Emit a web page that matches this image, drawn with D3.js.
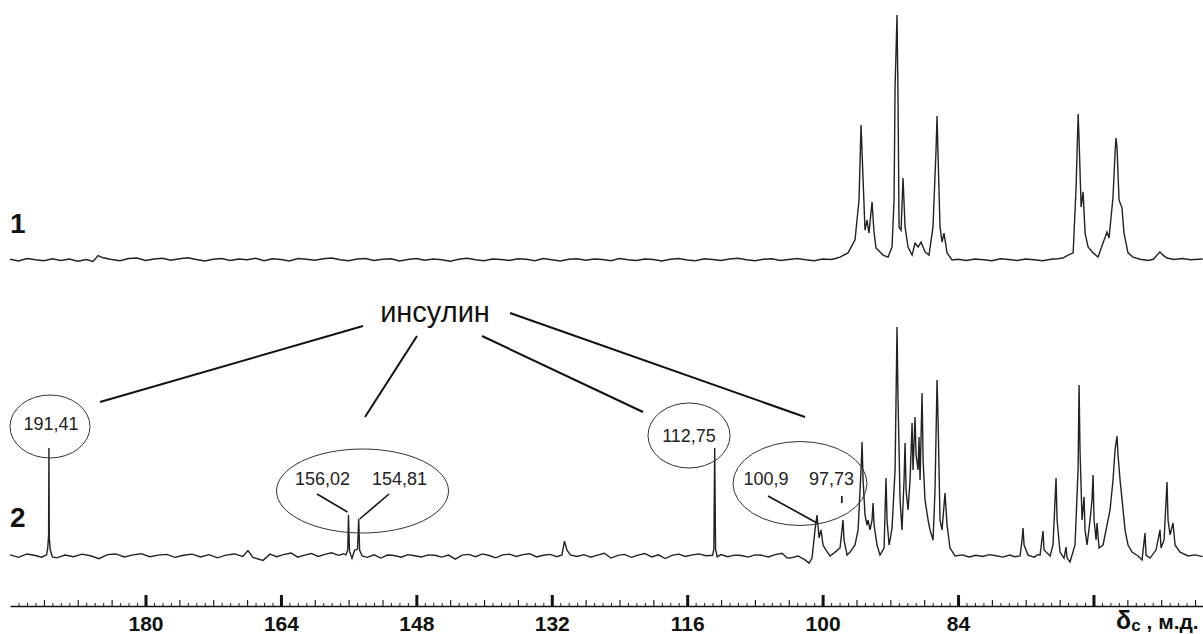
<!DOCTYPE html>
<html>
<head>
<meta charset="utf-8">
<script src="https://cdn.jsdelivr.net/npm/d3@7"></script>
<style>
  body { margin: 0; background: #fff; }
  svg { display: block; font-family: "Liberation Sans", Arial, sans-serif; }
</style>
</head>
<body>
<svg id="chart" width="1203" height="634"></svg>
<script>
// 13C spectra, [ppm, intensity in % of the tallest line]
const spectrum1 = [
  [196,0.3],[195,-0.4],[194,0.6],[193,0.1],[192,-0.3],[191,0.5],[190,-0.2],[189,0.4],[188,-0.5],[187,0.2],[186.2,-0.6],[185.6,1.8],[185,0.9],[184,0.2],[183,-0.3],[182,0.6],[181,0.8],[180,-0.2],[179,0.4],[178,0.7],[177,-0.1],[176,0.5],[175,0.9],[174,0.2],[173,-0.4],[172,0.3],[171,0.6],[170,-0.2],[169,0.4],[168,0.1],[167,0.7],[166,-0.3],[165,0.5],[164,0.2],[163,-0.4],[162,0.6],[161,0.3],[160,-0.1],[159,0.5],[158,0.8],[157,0.1],[156,-0.3],[155,0.4],[154,0.6],[153,-0.2],[152,0.3],[151,0.5],[150,-0.4],[149,0.2],[148,0.6],[147,-0.1],[146,0.4],[145,0.1],[144,-0.5],[143,0.3],[142,0.7],[141,0.1],[140,-0.3],[139,0.4],[138,0.2],[137,-0.2],[136,0.5],[135,0.3],[134,-0.3],[133,0.6],[132,0.1],[131,-0.4],[130,0.3],[129,0.5],[128,-0.1],[127,0.4],[126,0.2],[125,-0.3],[124,0.6],[123,0.1],[122,-0.2],[121,0.4],[120,0.2],[119,-0.4],[118,0.3],[117,0.6],[116,0],[115,-0.3],[114,0.5],[113,0.2],[112,-0.2],[111,0.4],[110,0.7],[109,0.1],[108,-0.3],[107,0.3],[106,0.5],[105,-0.2],[104,0.2],[103,0.6],[102,0.1],[101,-0.3],[100,0.4],[99,0.2],[98.5,0.6],
  [97.95,1.2],[97.0,2.9],[96.17,8.2],[95.7,24.5],[95.46,55.1],[95.22,32.7],[94.99,12.2],[94.75,16.3],[94.52,11.0],[94.16,23.7],[93.93,11.4],[93.69,4.9],[92.86,2.0],[92.27,1.2],[91.8,5.3],[91.56,24.5],[91.44,70.6],[91.21,100],[91.09,65.3],[90.97,13.5],[90.73,12.2],[90.5,33.5],[90.26,13.5],[89.91,5.3],[89.43,2.0],[89.08,6.9],[88.72,5.3],[88.37,7.3],[87.9,3.3],[87.43,2.0],[86.96,13.5],[86.6,44.9],[86.48,58.8],[86.37,43.7],[86.13,13.5],[85.89,7.3],[85.66,11.0],[85.3,2.9],[84.71,0],
  [84,0.3],[83,-0.2],[82,0.4],[81,0.1],[80,-0.3],[79,0.5],[78,0.2],[77,-0.2],[76,0.4],[75,0.1],[74,-0.3],[73,0.3],[72.2,0.5],
  [71.6,0.8],[71.0,2.0],[70.4,2.9],[70.05,29.8],[69.81,59.6],[69.7,49.0],[69.46,21.6],[69.23,27.8],[68.99,11.0],[68.64,5.3],[68.05,2.9],[67.46,1.2],[66.87,6.9],[66.4,11.4],[66.16,9.0],[65.69,25.7],[65.45,43.7],[65.34,49.8],[65.22,46.1],[64.98,24.5],[64.63,21.2],[64.39,11.0],[63.92,2.9],[63.33,1.2],
  [62.5,0.3],[61.5,-0.2],[60.9,0.4],[60.15,3.3],[59.79,2.0],[59.32,0.8],[58.5,0.2],[57.5,0.6],[56.5,0.1],[55.1,0.4]
];

const spectrum2 = [
  [196,0.5],[195,-0.6],[194,0.9],[193,0.2],[192.3,-0.5],[191.7,0.4],[191.55,3.5],[191.45,9],[191.41,47.2],[191.37,8],[191.25,2.6],[191,-0.4],[190.5,-0.8],[189.5,0.4],[188.5,-0.3],[187.5,0.8],[186.5,0.1],[185.5,-1.2],[184.5,0.6],[183.5,0.9],[182.5,-0.4],[181.5,0.5],[180.5,1.0],[179.5,-0.3],[178.5,0.4],[177.5,0.7],[176.5,-0.6],[175.5,0.3],[174.5,0.8],[173.5,-0.4],[172.5,0.6],[171.5,-0.8],[170.5,0.4],[169.5,0.9],[168.5,-0.2],[167.9,2.4],[167.3,-0.6],[166.1,-1.9],[165.3,0.8],[164.5,-0.3],[163.7,0.6],[162.8,1.3],[162,-0.5],[161.2,0.4],[160.4,1.1],[159.6,-0.2],[158.8,0.7],[158,1.4],[157.2,0.3],[156.6,1.0],
  [156.3,0.5],[156.1,3],[156.02,17.9],[155.9,2],[155.6,-1],[155.3,2.5],[154.95,3],[154.81,16.2],[154.7,2.5],[154.4,0],
  [153.8,-0.6],[153,0.5],[152.2,-0.9],[151.4,0.4],[150.6,0.2],[149.8,-0.5],[149,0.6],[148.2,0.1],[147.4,-0.4],[146.6,0.5],[145.8,0.3],[145,-0.5],[144.2,0.4],[143.4,-1.4],[142.6,0.4],[141.8,0.7],[141,-0.3],[140.2,0.9],[139.4,0.2],[138.6,-0.8],[137.8,0.5],[137,0.8],[136.2,-0.2],[135.4,0.6],[134.6,1.0],[133.8,-0.4],[133,0.3],[132.2,0.7],[131.4,-0.3],
  [130.8,0.5],[130.5,6.5],[130.2,2.5],[129.8,0.5],
  [129,-0.2],[128.2,0.6],[127.4,-0.5],[126.6,0.4],[125.8,1.2],[125,-0.9],[124.2,0.3],[123.4,0.7],[122.6,-0.6],[121.8,0.4],[121,1.1],[120.2,-0.4],[119.4,0.5],[118.6,-1.1],[117.8,0.3],[117,0.8],[116.2,-0.2],[115.4,0.5],[114.6,0.9],[113.8,0.1],
  [113,0.3],[112.85,3],[112.75,47.2],[112.65,3],[112.45,-0.4],
  [112,0.6],[111.2,-0.3],[110.4,0.4],[109.6,0.2],[108.8,-0.5],[108,0.5],[107.2,0.3],[106.4,-0.4],[105.6,0.6],[104.8,1.2],[104.2,-0.8],[103.85,-0.9],[102.9,0],[102.08,-1.7],[101.6,-3.1],[101.25,-0.9],
  [100.9,11.4],[100.66,17.9],[100.42,7.9],[100.19,11.4],[99.95,4.8],[99.6,2.6],[99.12,0],[98.53,1.7],[97.94,3.5],[97.71,11.4],[97.59,15.7],[97.47,7.0],[97.11,0.4],[96.76,1.7],[96.17,4.8],[95.81,11.4],[95.46,37.6],[95.34,49.8],[95.22,33.2],[94.99,17.9],[94.75,13.5],[94.63,15.7],[94.4,11.4],[94.16,15.7],[94.04,23.1],[93.92,13.5],[93.57,4.8],[93.22,0.4],[92.74,3.5],[92.51,34.1],[92.39,15.7],[92.15,4.8],[92.03,7.0],[91.8,12.2],[91.44,37.6],[91.21,100],[91.09,68.1],[90.85,24.5],[90.62,11.4],[90.38,33.2],[90.26,49.3],[90.14,28.8],[89.91,20.1],[89.67,33.2],[89.43,58.1],[89.32,37.6],[89.08,60.7],[88.96,44.1],[88.72,37.6],[88.61,52.0],[88.49,33.2],[88.25,71.2],[88.13,41.9],[87.9,24.5],[87.54,15.7],[87.31,11.4],[86.95,7.0],[86.72,28.8],[86.48,76.9],[86.36,59.4],[86.13,15.7],[85.89,11.4],[85.54,27.5],[85.3,13.5],[84.95,3.5],[84.35,0],
  [83.5,0.5],[82.7,-0.4],[81.9,0.3],[81.1,-0.2],[80.3,0.6],[79.5,0.1],[78.7,-0.5],[77.9,0.4],[77.3,-0.3],
  [76.67,0],[76.44,7.0],[76.32,12.2],[76.2,4.8],[75.73,0.4],[75.0,-0.5],[74.6,0.6],[74.31,0.4],[73.96,10.9],[73.84,2.6],[73.13,0],[72.78,4.8],[72.42,34.1],[72.3,15.7],[71.95,1.7],[71.48,-0.9],[71.24,3.9],[71.12,-0.9],[70.77,-2.6],[70.18,4.8],[69.82,37.6],[69.7,74.7],[69.59,46.3],[69.35,15.7],[69.11,25.8],[69.0,11.4],[68.76,4.8],[68.4,15.7],[68.17,24.5],[68.05,35.4],[67.93,15.7],[67.69,7.0],[67.58,14.4],[67.34,3.5],[66.87,4.8],[66.4,13.5],[66.04,20.1],[65.69,33.2],[65.45,46.3],[65.22,52.4],[65.1,44.1],[64.86,33.2],[64.62,24.5],[64.27,11.4],[63.92,4.8],[63.44,1.7],[62.73,0],[62.26,-1.7],[61.91,10.0],[61.79,0.4],[61.32,-0.9],[60.61,2.6],[60.14,11.4],[60.02,3.5],[59.66,7.0],[59.31,32.3],[59.19,15.7],[58.95,9.2],[58.6,14.4],[58.36,4.8],[57.77,1.7],[56.82,0],[56,0.5],[55.1,-0.3]
];

// insulin signals marked in spectrum 2
const insulinShifts = [191.41, 156.02, 154.81, 112.75, 100.9, 97.73];
const insulinLabel = "инсулин";
const traceLabels = ["1", "2"];

// axis
const majorTicks = [180, 164, 148, 132, 116, 100, 84, 68];
const tickLabels = [180, 164, 148, 132, 116, 100, 84];
const axisTitle = ["δ", "c", " , м.д."];

const svg = d3.select("#chart");

const x = d3.scaleLinear().domain([196, 55]).range([10.08, 1203.5]);
const y1 = d3.scaleLinear().domain([0, 100]).range([260, 15]);
const y2 = d3.scaleLinear().domain([0, 100]).range([556, 327]);

const fmt = v => String(v).replace(".", ",");

// spectra
svg.append("path")
    .datum(spectrum1)
    .attr("fill", "none")
    .attr("stroke", "#222")
    .attr("stroke-width", 1.4)
    .attr("d", d3.line().x(d => x(d[0])).y(d => y1(d[1])));

svg.append("path")
    .datum(spectrum2)
    .attr("fill", "none")
    .attr("stroke", "#222")
    .attr("stroke-width", 1.4)
    .attr("d", d3.line().x(d => x(d[0])).y(d => y2(d[1])));

// trace numbers
svg.append("text").attr("x", 10).attr("y", 233)
    .attr("font-size", 28).attr("font-weight", "bold").attr("fill", "#111")
    .text(traceLabels[0]);
svg.append("text").attr("x", 10).attr("y", 527)
    .attr("font-size", 28).attr("font-weight", "bold").attr("fill", "#111")
    .text(traceLabels[1]);

// axis: minor / medium / major ticks pointing up, labels below
const axisY = 606;
const minorTicks = d3.range(56, 196).filter(v => v % 4 !== 0);
const midTicks = d3.range(56, 196, 4).filter(v => !majorTicks.includes(v));

const gMinor = svg.append("g").attr("transform", `translate(0,${axisY})`)
    .call(d3.axisTop(x).tickValues(minorTicks).tickSize(3).tickSizeOuter(0).tickFormat(""));
gMinor.select(".domain").attr("stroke", "#111").attr("stroke-width", 1.6);
gMinor.selectAll(".tick line").attr("stroke", "#222").attr("stroke-width", 1);

const gMid = svg.append("g").attr("transform", `translate(0,${axisY})`)
    .call(d3.axisTop(x).tickValues(midTicks).tickSize(6).tickSizeOuter(0).tickFormat(""));
gMid.select(".domain").remove();
gMid.selectAll(".tick line").attr("stroke", "#222").attr("stroke-width", 1.2);

const gMajor = svg.append("g").attr("transform", `translate(0,${axisY})`)
    .call(d3.axisTop(x).tickValues(majorTicks).tickSize(11).tickSizeOuter(0).tickFormat(""));
gMajor.select(".domain").remove();
gMajor.selectAll(".tick line").attr("stroke", "#111").attr("stroke-width", 3);

const gLab = svg.append("g").attr("transform", `translate(0,${axisY})`)
    .call(d3.axisBottom(x).tickValues(tickLabels).tickSize(0).tickPadding(10).tickFormat(d3.format("d")));
gLab.select(".domain").remove();
gLab.selectAll("text")
    .attr("font-family", "Liberation Sans, Arial, sans-serif")
    .attr("font-size", 21).attr("font-weight", "bold").attr("fill", "#111");

const title = svg.append("text").attr("x", 1116).attr("y", 629)
    .attr("font-weight", "bold").attr("fill", "#111");
title.append("tspan").attr("font-size", 25).text(axisTitle[0]);
title.append("tspan").attr("font-size", 17).attr("dy", 2).text(axisTitle[1]);
title.append("tspan").attr("font-size", 21).attr("dy", -2).text(axisTitle[2]);

// callouts around the insulin lines
const ann = svg.append("g").attr("fill", "none");
const ellipses = [
  { cx: 50, cy: 426.5, rx: 40, ry: 31.5 },
  { cx: 362.5, cy: 491, rx: 86, ry: 42 },
  { cx: 689, cy: 435.5, rx: 41, ry: 32.5 },
  { cx: 800, cy: 483.5, rx: 67, ry: 42 }
];
ann.selectAll("ellipse").data(ellipses).enter().append("ellipse")
    .attr("cx", d => d.cx).attr("cy", d => d.cy)
    .attr("rx", d => d.rx).attr("ry", d => d.ry)
    .attr("stroke", "#333").attr("stroke-width", 1);

const labelPos = [
  [51, 430], [322.5, 485], [399.5, 485], [689, 442], [766, 485], [831.5, 485]
];
svg.append("g").selectAll("text").data(insulinShifts).enter().append("text")
    .attr("x", (d, i) => labelPos[i][0]).attr("y", (d, i) => labelPos[i][1])
    .attr("text-anchor", "middle").attr("font-size", 18).attr("fill", "#222")
    .text(d => fmt(d));

// leaders from the numbers down to their lines
const leaders = [
  [[317, 494], [x(156.02) - 1, 512]],
  [[389, 494], [x(154.81) + 1, 519]],
  [[768, 496], [x(100.9) + 2, 523]],
  [[x(97.73), 496], [x(97.73), 503]]
];
ann.selectAll("line.leader").data(leaders).enter().append("line")
    .attr("class", "leader")
    .attr("x1", d => d[0][0]).attr("y1", d => d[0][1])
    .attr("x2", d => d[1][0]).attr("y2", d => d[1][1])
    .attr("stroke", "#111").attr("stroke-width", 1.6);

// "инсулин" and its four pointers
svg.append("text").attr("x", 435).attr("y", 322)
    .attr("text-anchor", "middle").attr("font-size", 29).attr("fill", "#111")
    .text(insulinLabel);
const pointers = [
  [[363, 326], [100, 402]],
  [[417, 336], [365, 417]],
  [[482, 336], [643, 412]],
  [[510, 313], [805, 417]]
];
ann.selectAll("line.pointer").data(pointers).enter().append("line")
    .attr("class", "pointer")
    .attr("x1", d => d[0][0]).attr("y1", d => d[0][1])
    .attr("x2", d => d[1][0]).attr("y2", d => d[1][1])
    .attr("stroke", "#111").attr("stroke-width", 2);
</script>
</body>
</html>
